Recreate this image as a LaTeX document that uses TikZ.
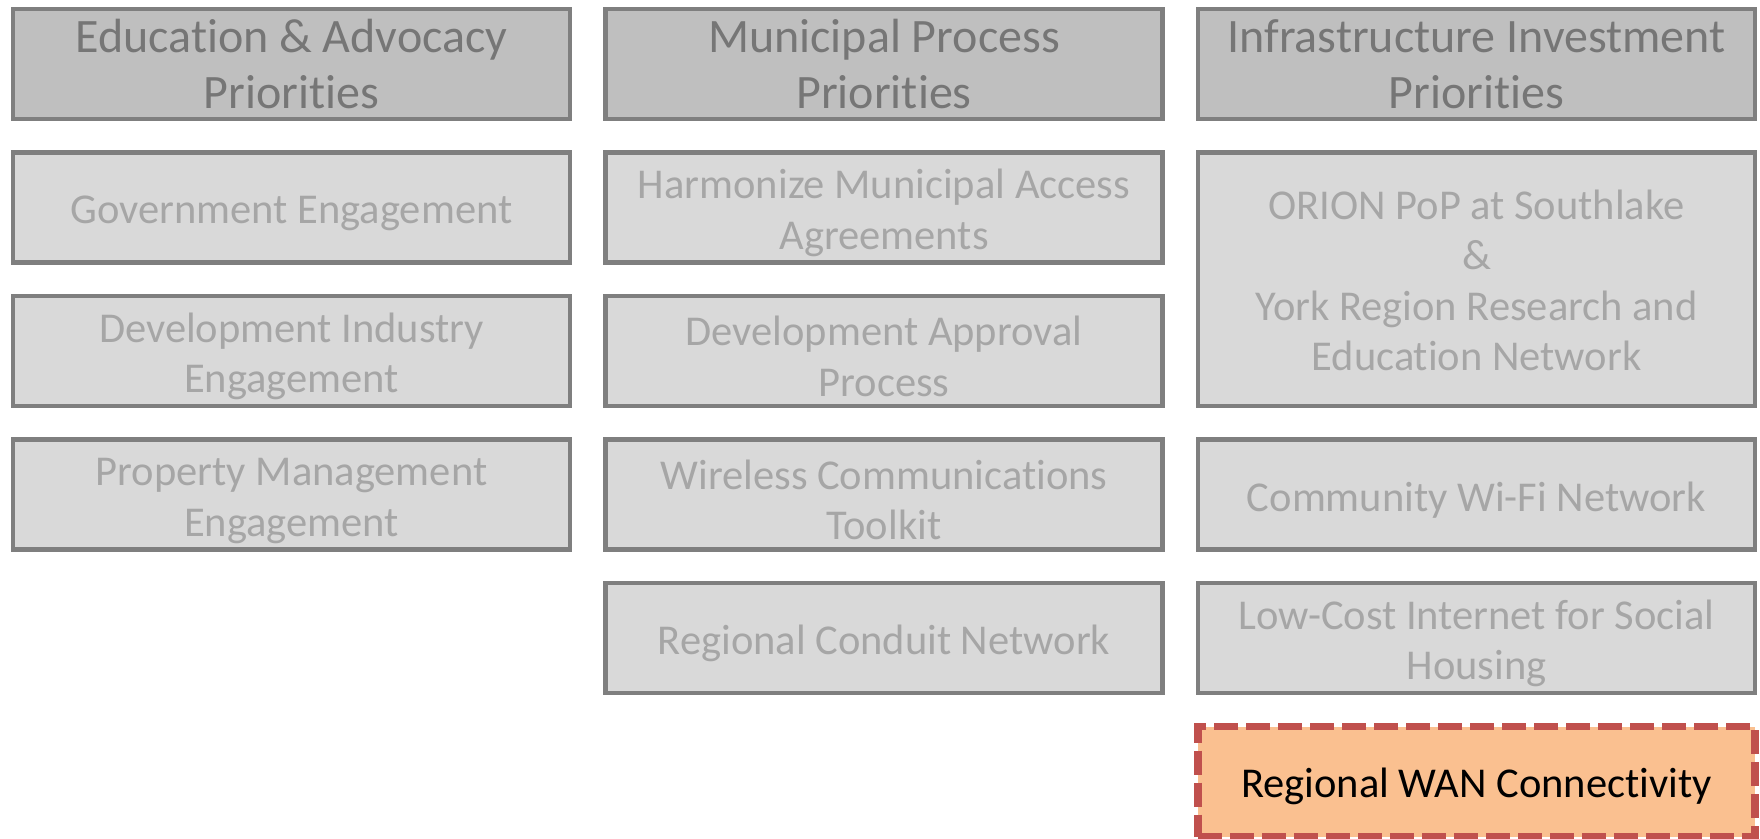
\documentclass[tikz,border=0pt]{standalone}
\usepackage{fontspec}
\setmainfont{Carlito}[Ligatures=NoCommon]
\usetikzlibrary{positioning}
\definecolor{boxline}{HTML}{7F7F7F}
\definecolor{headfill}{HTML}{BFBFBF}
\definecolor{headtext}{HTML}{767676}
\definecolor{itemfill}{HTML}{D9D9D9}
\definecolor{itemtext}{HTML}{A6A6A6}
\definecolor{wanfill}{HTML}{FAC090}
\definecolor{wanline}{HTML}{C0504D}
\tikzstyle{header} = [rectangle, minimum width=278.5pt, minimum height=55pt, text width=268pt, inner sep=1pt, outer sep=0pt, align=flush center, draw=boxline, line width=2.4pt, fill=headfill, text=headtext, font=\fontsize{24}{28}\selectfont]
\tikzstyle{item} = [rectangle, minimum width=278.5pt, minimum height=55pt, text width=268pt, text height=20pt, inner sep=1pt, outer sep=0pt, align=flush center, draw=boxline, line width=2.4pt, fill=itemfill, text=itemtext, font=\fontsize{21.25}{25.25}\selectfont]
\tikzstyle{focus} = [item, draw=wanline, line width=3.75pt, dash pattern=on 12pt off 4pt, fill=wanfill, text=black]

\begin{document}
\begin{tikzpicture}[node distance=16.75pt and 17.75pt]
\useasboundingbox (0,0) rectangle (880pt,-419.5pt);

% column headers
\node (h1) [header] at (145.75pt,-32pt) {Education \& Advocacy\\Priorities};
\node (h2) [header, right=of h1] {Municipal Process\\Priorities};
\node (h3) [header, right=of h2] {Infrastructure Investment\\Priorities};

% education & advocacy
\node (e1) [item, below=of h1] {Government Engagement};
\node (e2) [item, below=of e1] {Development Industry\\Engagement};
\node (e3) [item, below=of e2] {Property Management\\Engagement};

% municipal process
\node (m1) [item, below=of h2] {Harmonize Municipal Access\\Agreements};
\node (m2) [item, below=of m1] {Development Approval\\Process};
\node (m3) [item, below=of m2] {Wireless Communications\\Toolkit};
\node (m4) [item, below=of m3] {Regional Conduit Network};

% infrastructure investment
\node (i1) [item, minimum height=126.75pt, text height=16pt, below=of h3] {ORION PoP at Southlake\\\&\\York Region Research and\\Education Network};
\node (i2) [item, below=of i1] {Community Wi-Fi Network};
\node (i3) [item, below=of i2] {Low-Cost Internet for Social\\Housing};
\node (i4) [focus, below=of i3] {Regional WAN Connectivity};

\end{tikzpicture}
\end{document}
